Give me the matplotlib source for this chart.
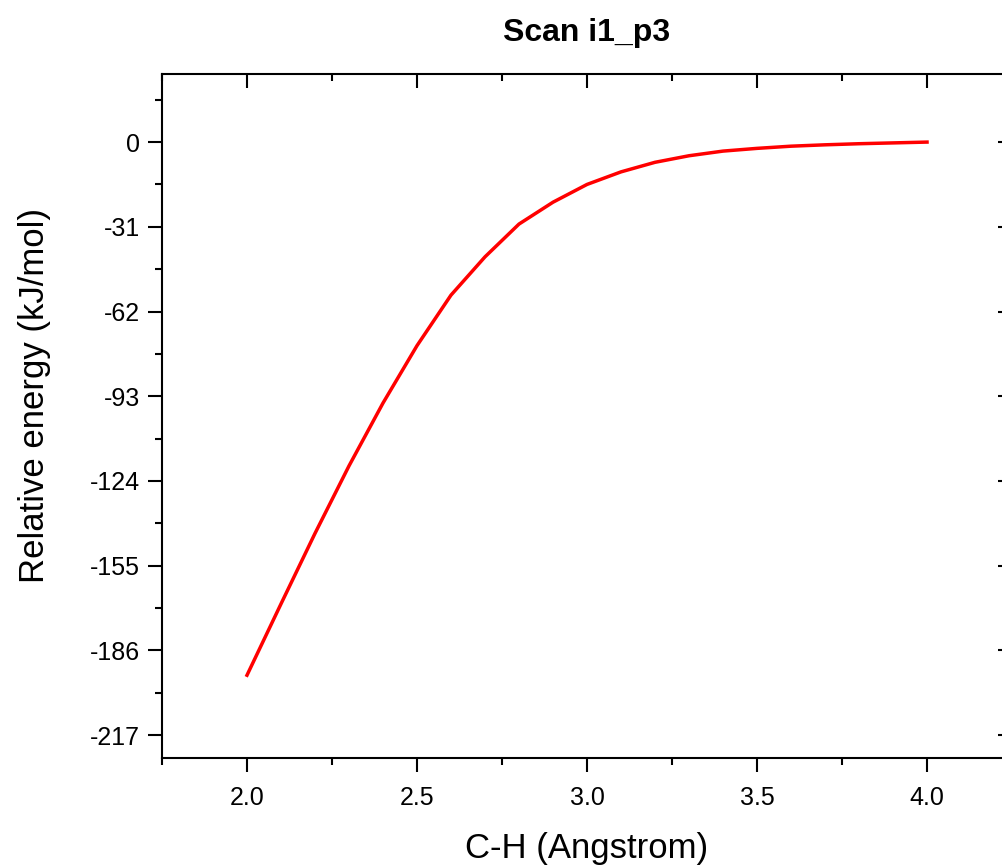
import matplotlib
matplotlib.use("Agg")
import matplotlib.pyplot as plt
from matplotlib.ticker import MultipleLocator

plt.rcParams['font.family'] = ['Liberation Sans', 'DejaVu Sans']
plt.rcParams['axes.unicode_minus'] = False

# Data
distance = [2.0, 2.1, 2.2, 2.3, 2.4, 2.5, 2.6, 2.7, 2.8, 2.9, 3.0,
            3.1, 3.2, 3.3, 3.4, 3.5, 3.6, 3.7, 3.8, 3.9, 4.0]
energy = [-195.1, -169.0, -143.2, -118.5, -95.5, -74.5, -56.0, -42.0, -30.0, -22.0, -15.5,
          -10.9, -7.4, -5.0, -3.3, -2.3, -1.5, -1.0, -0.6, -0.3, 0.0]
y_ticks = [0, -31, -62, -93, -124, -155, -186, -217]
x_ticks = [2.0, 2.5, 3.0, 3.5, 4.0]

fig = plt.figure(figsize=(10.03, 8.67), dpi=100)
ax = fig.add_axes([0.1615, 0.1257, 0.8475, 0.7889])

ax.plot(distance, energy, color='red', lw=2.5)

ax.set_xlim(1.75, 4.25)
ax.set_ylim(-225.4, 24.9)
ax.set_xticks(x_ticks)
ax.set_xticklabels([f"{v:.1f}" for v in x_ticks])
ax.set_yticks(y_ticks)
ax.xaxis.set_minor_locator(MultipleLocator(0.25))
ax.yaxis.set_minor_locator(MultipleLocator(15.5))

for s in ax.spines.values():
    s.set_linewidth(1.5)

ax.tick_params(which='both', width=1.5, labelsize=18)
ax.tick_params(which='major', length=10)
ax.tick_params(which='minor', length=5)
ax.tick_params(axis='x', which='both', top=True, direction='out', pad=10)
ax.tick_params(axis='y', which='both', right=True, direction='out', pad=6)
# Top and right ticks point inward
for t in ax.xaxis.get_major_ticks() + ax.xaxis.get_minor_ticks():
    t.tick2line.set_marker(3)
for t in ax.yaxis.get_major_ticks() + ax.yaxis.get_minor_ticks():
    t.tick2line.set_marker(0)

ax.set_xlabel("C-H (Angstrom)", fontsize=25, labelpad=16)
ax.set_ylabel("Relative energy (kJ/mol)", fontsize=25)
ax.yaxis.set_label_coords(-0.131, 0.53)
ax.set_title("Scan i1_p3", fontsize=23, fontweight='bold', pad=24)

fig.savefig("out.png", dpi=100)
